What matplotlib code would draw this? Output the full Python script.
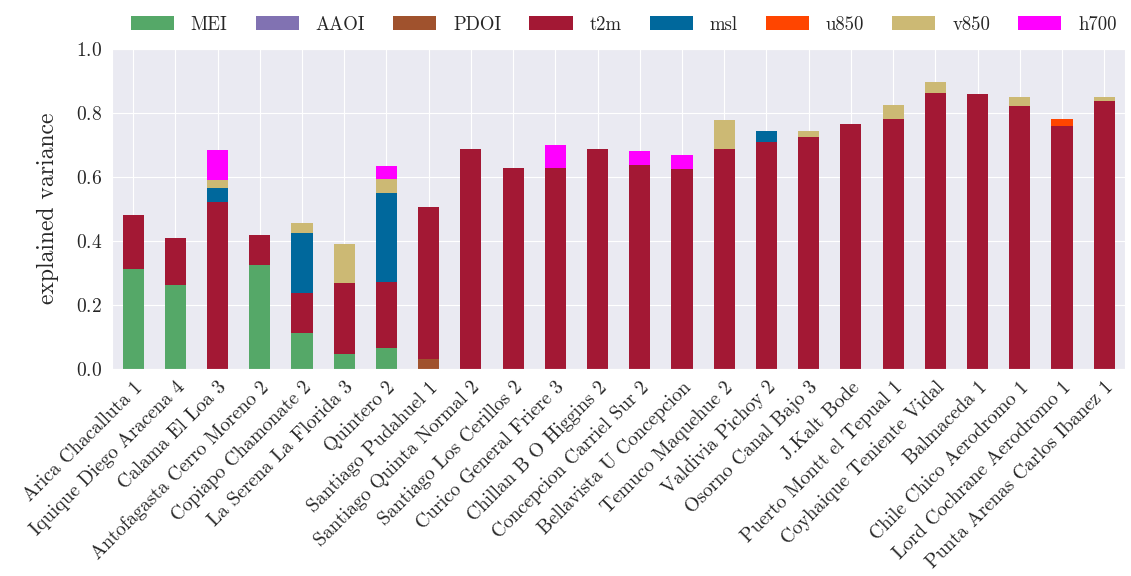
import matplotlib
matplotlib.use("Agg")
import matplotlib.pyplot as plt
import seaborn as sns
import pandas as pd

stations = [
    "Arica Chacalluta 1", "Iquique Diego Aracena 4", "Calama El Loa 3",
    "Antofagasta Cerro Moreno 2", "Copiapo Chamonate 2", "La Serena La Florida 3",
    "Quintero 2", "Santiago Pudahuel 1", "Santiago Quinta Normal 2",
    "Santiago Los Cerillos 2", "Curico General Friere 3", "Chillan B O Higgins 2",
    "Concepcion Carriel Sur 2", "Bellavista U Concepcion", "Temuco Maquehue 2",
    "Valdivia Pichoy 2", "Osorno Canal Bajo 3", "J.Kalt Bode",
    "Puerto Montt el Tepual 1", "Coyhaique Teniente Vidal", "Balmaceda 1",
    "Chile Chico Aerodromo 1", "Lord Cochrane Aerodromo 1", "Punta Arenas Carlos Ibanez 1",
]

# explained variance per predictor (stacked contributions)
mei = [0.312, 0.263, 0, 0.324, 0.113, 0.045, 0.065, 0, 0, 0, 0, 0,
       0, 0, 0, 0, 0, 0, 0, 0, 0, 0, 0, 0]
aaoi = [0] * 24
pdoi = [0, 0, 0, 0, 0, 0, 0, 0.031, 0, 0, 0, 0,
        0, 0, 0, 0, 0, 0, 0, 0, 0, 0, 0, 0]
t2m = [0.168, 0.146, 0.520, 0.093, 0.123, 0.223, 0.206, 0.476, 0.688, 0.627, 0.629, 0.688,
       0.636, 0.625, 0.688, 0.708, 0.724, 0.765, 0.780, 0.862, 0.860, 0.821, 0.760, 0.838]
msl = [0, 0, 0.045, 0, 0.188, 0, 0.278, 0, 0, 0, 0, 0,
       0, 0, 0, 0.036, 0, 0, 0, 0, 0, 0, 0, 0]
u850 = [0, 0, 0, 0, 0, 0, 0, 0, 0, 0, 0, 0,
        0, 0, 0, 0, 0, 0, 0, 0, 0, 0, 0.021, 0]
v850 = [0, 0, 0.026, 0, 0.031, 0.122, 0.043, 0, 0, 0, 0, 0,
        0, 0, 0.090, 0, 0.018, 0, 0.045, 0.034, 0, 0.028, 0, 0.013]
h700 = [0, 0, 0.093, 0, 0, 0, 0.041, 0, 0, 0, 0.072, 0,
        0.045, 0.044, 0, 0, 0, 0, 0, 0, 0, 0, 0, 0]

df = pd.DataFrame({
    "MEI": mei, "AAOI": aaoi, "PDOI": pdoi, "t2m": t2m,
    "msl": msl, "u850": u850, "v850": v850, "h700": h700,
}, index=stations)

colors = ["#55a868", "#8172b2", "#a0522d", "#a31834",
          "#00689c", "#ff4500", "#ccb974", "#ff00ff"]

sns.set_style("darkgrid")
plt.rcParams["font.family"] = ["cmr10", "DejaVu Serif"]
plt.rcParams["axes.formatter.use_mathtext"] = True

fig, ax = plt.subplots(figsize=(11.31, 5.76), dpi=100)
df.plot(kind="bar", stacked=True, color=colors, ax=ax, width=0.5, linewidth=0)

ax.set_ylim(0, 1.0)
ax.set_ylabel("explained variance", fontsize=17, labelpad=12)
ax.tick_params(axis="y", labelsize=14)
ax.set_xticklabels(stations, rotation=45, ha="right", rotation_mode="anchor", fontsize=14)

ax.legend(loc="lower center", bbox_to_anchor=(0.505, 0.995), ncol=8, frameon=False,
          fontsize=13.5, handlelength=2.3, handleheight=0.8, handletextpad=0.9,
          columnspacing=1.5)

fig.subplots_adjust(left=0.099, right=0.995, top=0.915, bottom=0.36)
fig.savefig("out.png", dpi=100)
